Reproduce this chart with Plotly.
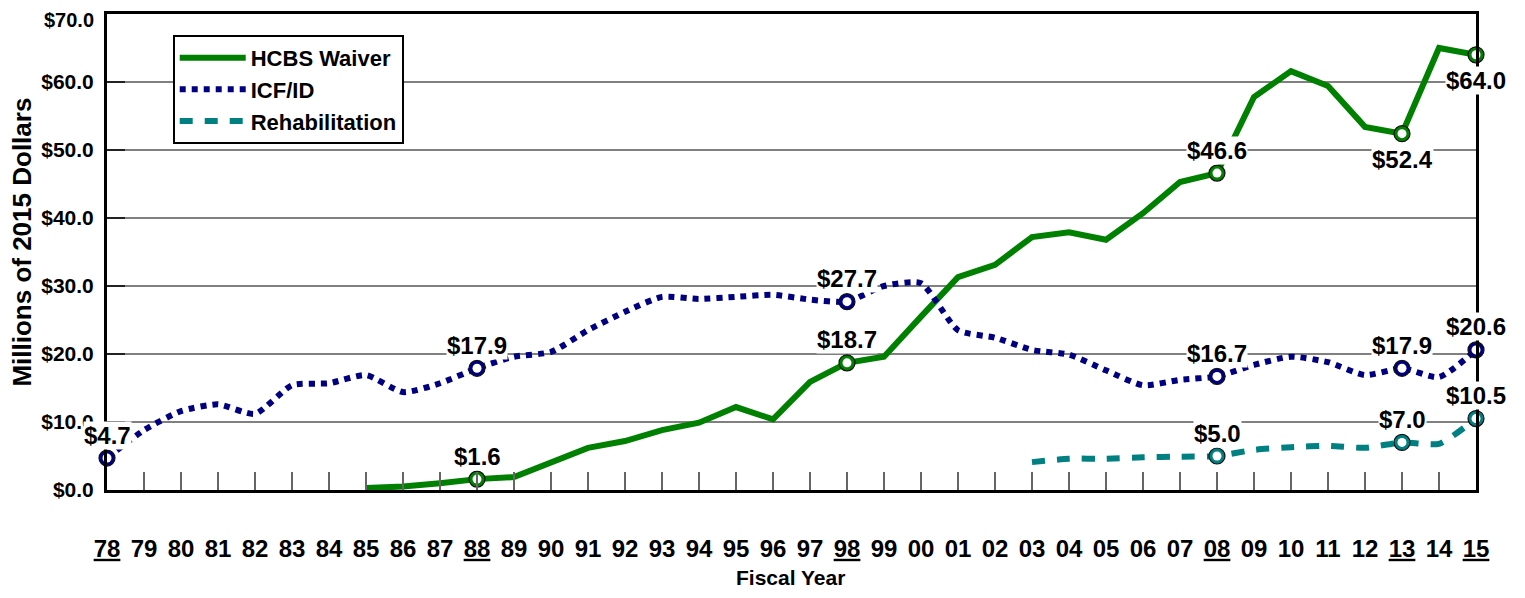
import plotly.graph_objects as go

years = ["78","79","80","81","82","83","84","85","86","87","88","89","90","91","92","93","94","95","96","97",
         "98","99","00","01","02","03","04","05","06","07","08","09","10","11","12","13","14","15"]
underlined = ["78","88","98","08","13","15"]

hcbs = [None]*7 + [0.3,0.5,1.0,1.6,1.9,4.0,6.2,7.2,8.8,9.9,12.2,10.4,15.9,
                   18.7,19.6,25.5,31.3,33.1,37.2,37.9,36.8,40.7,45.3,46.6,57.8,61.6,59.4,53.4,52.4,65.0,64.0]
icf = [4.7,8.8,11.6,12.6,11.2,15.4,15.7,16.9,14.4,15.7,17.9,19.6,20.3,23.5,26.2,28.4,28.1,28.4,28.7,28.0,
       27.7,30.0,30.4,23.5,22.4,20.6,19.9,17.6,15.4,16.2,16.7,18.4,19.6,18.8,16.9,17.9,16.6,20.6]
rehab = [None]*25 + [4.1,4.6,4.6,4.8,4.9,5.0,5.9,6.3,6.5,6.2,7.0,6.8,10.5]

hcbs_marked = ["88","98","08","13","15"]
icf_marked = ["78","88","98","08","13","15"]
rehab_marked = ["08","13","15"]
below_labels = {("HCBS Waiver","13"),("HCBS Waiver","15")}

GREEN = "#008000"
NAVY = "#000080"
TEAL = "#008080"
FONT = "Liberation Sans, Arial, sans-serif"

xs = list(range(len(years)))
fig = go.Figure()

series = [
    ("HCBS Waiver", hcbs, GREEN, dict(width=6), "linear", hcbs_marked),
    ("ICF/ID", icf, NAVY, dict(width=6, dash="6px,6px"), "spline", icf_marked),
    ("Rehabilitation", rehab, TEAL, dict(width=6, dash="13px,12px"), "spline", rehab_marked),
]

for name, vals, col, ln, shape, marked in series:
    line = dict(color=col, shape=shape, **ln)
    if shape == "spline":
        line["smoothing"] = 0.6
    fig.add_trace(go.Scatter(x=xs, y=vals, mode="lines", name=f"<b>{name}</b>", line=line,
                             connectgaps=False, cliponaxis=False))

annotations = []
for name, vals, col, ln, shape, marked in series:
    mx = [years.index(m) for m in marked]
    my = [vals[i] for i in mx]
    # outer coloured ball
    fig.add_trace(go.Scatter(x=mx, y=my, mode="markers", showlegend=False, cliponaxis=False,
                             hoverinfo="skip",
                             marker=dict(symbol="circle", size=16, color=col,
                                         line=dict(color="#111111", width=1.2))))
    # white highlight centre
    fig.add_trace(go.Scatter(x=mx, y=my, mode="markers", showlegend=False, cliponaxis=False,
                             marker=dict(symbol="circle", size=9, color="white",
                                         line=dict(width=0))))
    for i, v in zip(mx, my):
        below = (name, years[i]) in below_labels
        annotations.append(dict(x=i, y=v, xref="x", yref="y", text=f"<b>${v:.1f}</b>",
                                showarrow=False, bgcolor="white", borderpad=0,
                                yshift=-26 if below else 23, yanchor="middle",
                                font=dict(family=FONT, size=24, color="black")))

annotations.append(dict(x=0.499, y=-0.183, xref="paper", yref="paper", text="<b>Fiscal Year</b>",
                        showarrow=False, yanchor="middle",
                        font=dict(family=FONT, size=21, color="black")))
annotations.append(dict(x=-0.062, y=0.52, xref="paper", yref="paper", text="<b>Millions of 2015 Dollars</b>",
                        showarrow=False, textangle=-90, xanchor="center", yanchor="middle",
                        font=dict(family=FONT, size=26, color="black")))

ticktext = [f"<b><u>{y}</u></b>" if y in underlined else f"<b>{y}</b>" for y in years]
yticks = [0,10,20,30,40,50,60]
ytop = 70
# top tick label placed as annotation so it stays inside the page
annotations.append(dict(x=0, y=ytop, xref="paper", yref="y", text=f"<b>${ytop:.1f}</b>",
                        showarrow=False, xanchor="right", yanchor="top", xshift=-12, yshift=6,
                        borderpad=0,
                        font=dict(family=FONT, size=20, color="black")))

fig.update_layout(
    width=1509, height=582,
    margin=dict(l=99, r=41, t=6, b=100),
    autosize=False,
    paper_bgcolor="white", plot_bgcolor="white",
    annotations=annotations,
    legend=dict(x=0.048, y=0.956, xanchor="left", yanchor="top",
                bgcolor="white", bordercolor="black", borderwidth=2,
                font=dict(family=FONT, size=22, color="black"),
                itemwidth=66, tracegroupgap=0),
    xaxis=dict(range=[0, 37], tickvals=xs, ticktext=ticktext, showgrid=False,
               ticks="inside", ticklen=18, tickcolor="#666", tickwidth=1.5,
               showline=True, linecolor="black", linewidth=3, mirror=True,
               ticklabelstandoff=35, tickangle=0, automargin=False, ticklabeloverflow="allow",
               tickfont=dict(family=FONT, size=24, color="black"), zeroline=False),
    yaxis=dict(range=[0, ytop], tickvals=yticks, ticktext=[f"<b>${v:.1f}</b>" for v in yticks],
               showgrid=True, gridcolor="#808080", gridwidth=1.5,
               ticks="inside", ticklen=18, tickcolor="#222", tickwidth=1.5,
               showline=True, linecolor="black", linewidth=3, mirror=True,
               ticklabelstandoff=6, automargin=False, ticklabeloverflow="allow",
               tickfont=dict(family=FONT, size=21, color="black"), zeroline=False),
)

fig.write_html("out.html")
